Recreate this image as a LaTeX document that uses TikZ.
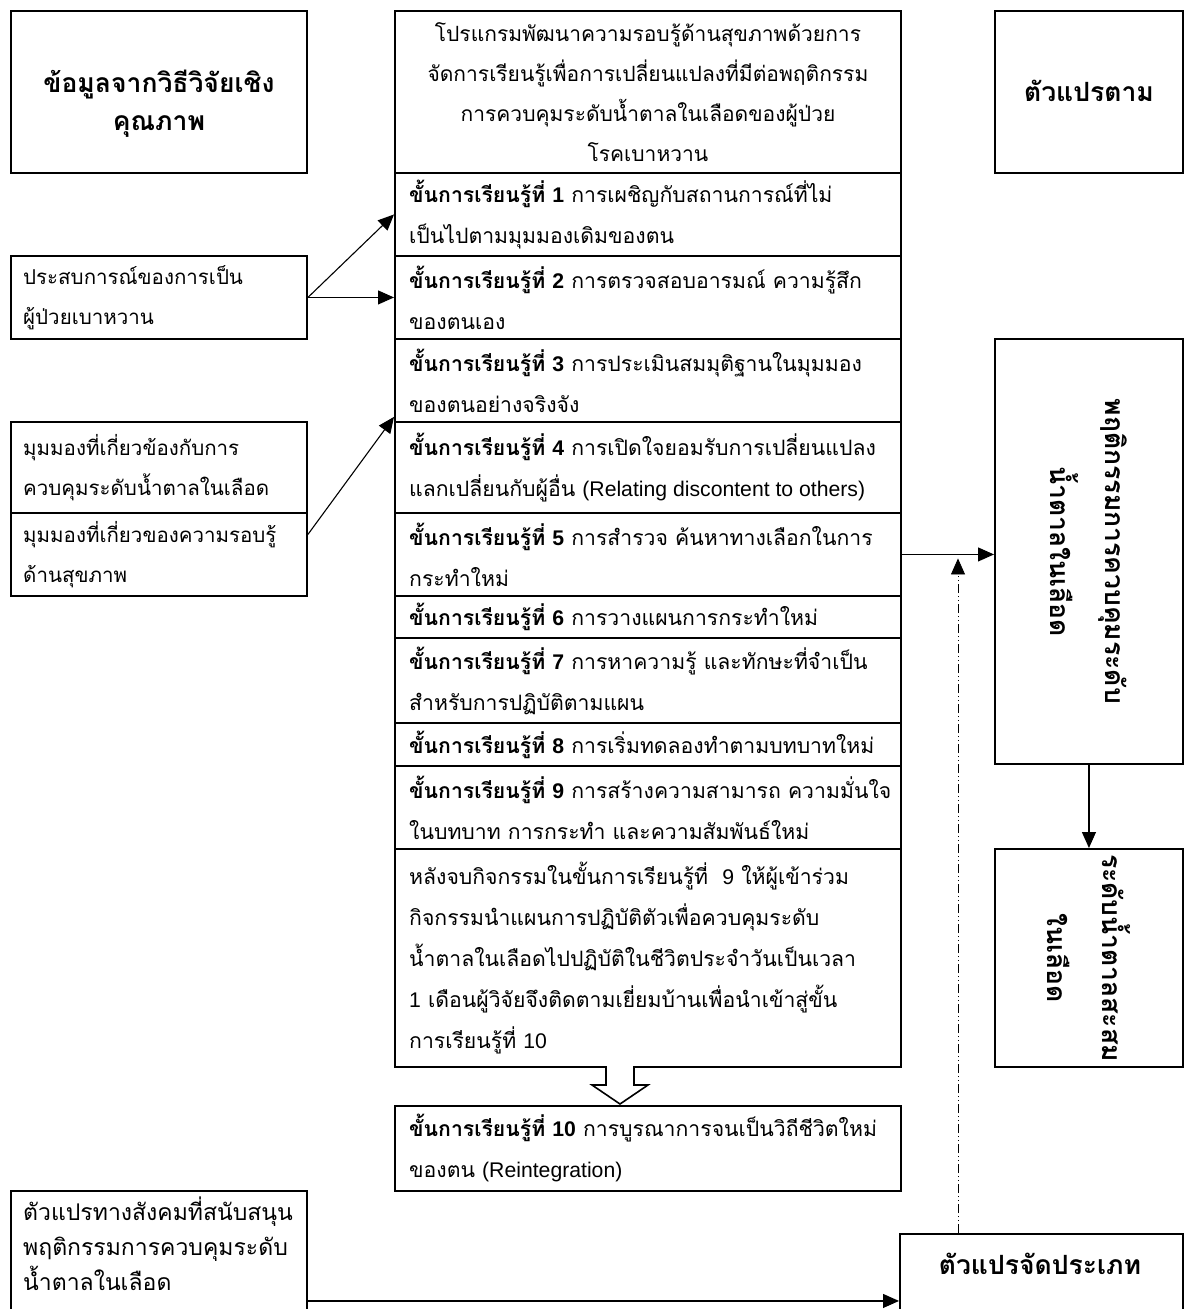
\documentclass[tikz,border=0pt]{standalone}
\usepackage{fontspec}
\setmainfont[Script=Thai]{Loma}
\newfontfamily\lat{Liberation Sans}
\usetikzlibrary{arrows.meta}
\tikzset{
  box/.style={draw, line width=1.9pt, inner sep=0pt, anchor=north west},
  tx/.style={inner sep=0pt, align=left, anchor=west, font=\fontsize{21.2}{41}\selectfont},
  ltx/.style={inner sep=0pt, align=left, anchor=west, font=\fontsize{20.5}{40}\selectfont},
  ctx/.style={inner sep=0pt, align=center, font=\fontsize{21}{40}\selectfont},
  hdr/.style={inner sep=0pt, align=center, font=\bfseries\fontsize{26.5}{38}\selectfont},
  rot/.style={inner sep=0pt, rotate=-90, align=center, font=\bfseries\fontsize{26.5}{55}\selectfont},
  conn/.style={line width=1.1pt, -{Triangle[length=16pt,width=14pt]}},
  dashdot/.style={line width=0.8pt, dash pattern=on 9pt off 3pt on 1pt off 3pt on 1pt off 3pt, -{Triangle[length=16pt,width=14pt]}},
  hollow/.style={draw, line width=1.6pt, fill=white, line join=miter}
}
\begin{document}
\begin{tikzpicture}[x=1pt,y=-1pt]
\clip (0,0) rectangle (1184,1309);
% left column
\node[box, minimum width=296pt, minimum height=162pt] (qual) at (10,10) {};
\node[hdr] (qualt) at ([yshift=-12pt]qual.center) {ข้อมูลจากวิธีวิจัยเชิง\\คุณภาพ};
\node[box, minimum width=296pt, minimum height=83pt] (exp) at (10,255) {};
\node[ltx] (expt) at ([xshift=13pt]exp.west) {ประสบการณ์ของการเป็น\\ผู้ป่วยเบาหวาน};
\node[box, minimum width=296pt, minimum height=91pt] (ctrl) at (10,421) {};
\node[ltx] (ctrlt) at ([xshift=13pt]ctrl.west) {มุมมองที่เกี่ยวข้องกับการ\\ควบคุมระดับน้ำตาลในเลือด};
\node[box, minimum width=296pt, minimum height=83pt] (hl) at (10,512) {};
\node[ltx] (hlt) at ([xshift=13pt]hl.west) {มุมมองที่เกี่ยวของความรอบรู้\\ด้านสุขภาพ};
\node[box, minimum width=296pt, minimum height=220pt] (soc) at (10,1190) {};
\node[ltx, anchor=north west, font=\fontsize{23}{35}\selectfont] (soct) at (23,1197) {ตัวแปรทางสังคมที่สนับสนุน\\พฤติกรรมการควบคุมระดับ\\น้ำตาลในเลือด};
% main column
\node[box, minimum width=506pt, minimum height=162pt] (title) at (394,10) {};
\node[ctx] (titlet) at (title.center) {โปรแกรมพัฒนาความรอบรู้ด้านสุขภาพด้วยการ\\จัดการเรียนรู้เพื่อการเปลี่ยนแปลงที่มีต่อพฤติกรรม\\การควบคุมระดับน้ำตาลในเลือดของผู้ป่วย\\โรคเบาหวาน};
\node[box, minimum width=506pt, minimum height=83pt] (r1) at (394,172) {};
\node[tx] (r1t) at ([xshift=15pt]r1.west) {\textbf{ขั้นการเรียนรู้ที่ {\lat 1}} การเผชิญกับสถานการณ์ที่ไม่\\เป็นไปตามมุมมองเดิมของตน};
\node[box, minimum width=506pt, minimum height=83pt] (r2) at (394,255) {};
\node[tx] (r2t) at ([xshift=15pt]r2.west) {\textbf{ขั้นการเรียนรู้ที่ {\lat 2}} การตรวจสอบอารมณ์ ความรู้สึก\\ของตนเอง};
\node[box, minimum width=506pt, minimum height=83pt] (r3) at (394,338) {};
\node[tx] (r3t) at ([xshift=15pt]r3.west) {\textbf{ขั้นการเรียนรู้ที่ {\lat 3}} การประเมินสมมุติฐานในมุมมอง\\ของตนอย่างจริงจัง};
\node[box, minimum width=506pt, minimum height=91pt] (r4) at (394,421) {};
\node[tx] (r4t) at ([xshift=15pt]r4.west) {\textbf{ขั้นการเรียนรู้ที่ {\lat 4}} การเปิดใจยอมรับการเปลี่ยนแปลง\\แลกเปลี่ยนกับผู้อื่น {\lat (Relating discontent to others)}};
\node[box, minimum width=506pt, minimum height=83pt] (r5) at (394,512) {};
\node[tx] (r5t) at ([xshift=15pt]r5.west) {\textbf{ขั้นการเรียนรู้ที่ {\lat 5}} การสำรวจ ค้นหาทางเลือกในการ\\กระทำใหม่};
\node[box, minimum width=506pt, minimum height=42pt] (r6) at (394,595) {};
\node[tx] (r6t) at ([xshift=15pt]r6.west) {\textbf{ขั้นการเรียนรู้ที่ {\lat 6}} การวางแผนการกระทำใหม่};
\node[box, minimum width=506pt, minimum height=85pt] (r7) at (394,637) {};
\node[tx] (r7t) at ([xshift=15pt]r7.west) {\textbf{ขั้นการเรียนรู้ที่ {\lat 7}} การหาความรู้ และทักษะที่จำเป็น\\สำหรับการปฏิบัติตามแผน};
\node[box, minimum width=506pt, minimum height=43pt] (r8) at (394,722) {};
\node[tx] (r8t) at ([xshift=15pt]r8.west) {\textbf{ขั้นการเรียนรู้ที่ {\lat 8}} การเริ่มทดลองทำตามบทบาทใหม่};
\node[box, minimum width=506pt, minimum height=83pt] (r9) at (394,765) {};
\node[tx] (r9t) at ([xshift=15pt]r9.west) {\textbf{ขั้นการเรียนรู้ที่ {\lat 9}} การสร้างความสามารถ ความมั่นใจ\\ในบทบาท การกระทำ และความสัมพันธ์ใหม่};
\node[box, minimum width=506pt, minimum height=218pt] (r10) at (394,848) {};
\node[tx] (r10t) at ([xshift=15pt]r10.west) {หลังจบกิจกรรมในขั้นการเรียนรู้ที่ \ {\lat 9} ให้ผู้เข้าร่วม\\กิจกรรมนำแผนการปฏิบัติตัวเพื่อควบคุมระดับ\\น้ำตาลในเลือดไปปฏิบัติในชีวิตประจำวันเป็นเวลา\\{\lat 1} เดือนผู้วิจัยจึงติดตามเยี่ยมบ้านเพื่อนำเข้าสู่ขั้น\\การเรียนรู้ที่ {\lat 10}};
\node[box, minimum width=506pt, minimum height=85pt] (s10) at (394,1105) {};
\node[tx] (s10t) at ([xshift=15pt]s10.west) {\textbf{ขั้นการเรียนรู้ที่ {\lat 10}} การบูรณาการจนเป็นวิถีชีวิตใหม่\\ของตน {\lat (Reintegration)}};
% hollow arrow
\draw[hollow] (606,1066) -- (606,1085) -- (592,1085) -- (620,1104) -- (648,1085) -- (634,1085) -- (634,1066);
% right column
\node[box, minimum width=188pt, minimum height=162pt] (dep) at (994,10) {};
\node[hdr] (dept) at ([yshift=1pt]dep.center) {ตัวแปรตาม};
\node[box, minimum width=188pt, minimum height=425pt] (beh) at (994,338) {};
\node[rot] (beht) at (beh.center) {พฤติกรรมการควบคุมระดับ\\น้ำตาลในเลือด};
\node[box, minimum width=188pt, minimum height=218pt] (acc) at (994,848) {};
\node[rot] (acct) at (acc.center) {ระดับน้ำตาลสะสม\\ในเลือด};
\node[box, minimum width=283pt, minimum height=134pt] (cat) at (899,1233) {};
\node[hdr] (catt) at (1040,1264) {ตัวแปรจัดประเภท};
\coordinate (dd) at (958,1233);
% connectors
\draw[conn] (exp.east) -- (r1.west);
\draw[conn] (exp.east) -- (r2.west);
\draw[conn] ([yshift=20pt]hl.east) -- ([yshift=6pt]r3.south west);
\draw[conn] (r5.east) -- (r5.east -| beh.west);
\draw[dashdot] (dd) -- ([yshift=-4pt]dd |- r5.east);
\draw[conn] (beh.south) -- (acc.north);
\draw[conn] (soc.east) -- (cat.west);
\end{tikzpicture}
\end{document}
